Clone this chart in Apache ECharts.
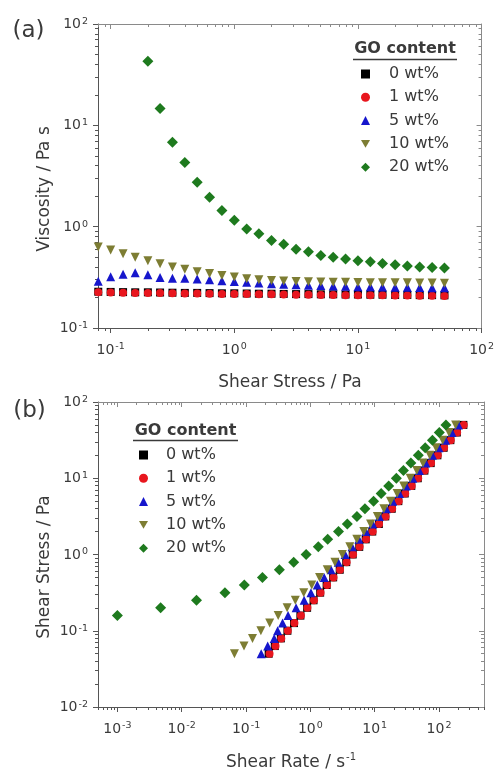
<!DOCTYPE html>
<html>
<head>
<meta charset="utf-8">
<title>GO content rheology</title>
<script src="https://cdn.jsdelivr.net/npm/echarts@6/dist/echarts.min.js"></script>
<style>
    html, body { margin: 0; padding: 0; background: #fff; }
    #main { width: 497px; height: 773px; }
</style>
</head>
<body>
<div id="main"></div>
<script>
// shear stress steps (Pa), shared by both panels
var stressList = [0.05, 0.063, 0.0794, 0.1, 0.126, 0.158, 0.2, 0.251, 0.316, 0.398, 0.501,
    0.631, 0.794, 1, 1.26, 1.58, 2, 2.51, 3.16, 3.98, 5.01, 6.31, 7.94, 10, 12.6, 15.8, 20,
    25.1, 31.6, 39.8, 50.1];

// (a) viscosity / Pa s, starting at stress 0.0794 (20 wt% starts at 0.2)
var visc0 = [0.228, 0.227, 0.226, 0.225, 0.225, 0.224, 0.223, 0.222, 0.222, 0.221, 0.22, 0.22,
    0.219, 0.218, 0.218, 0.217, 0.216, 0.216, 0.215, 0.215, 0.214, 0.214, 0.213, 0.213, 0.212,
    0.212, 0.211, 0.211, 0.21];
var visc1 = [0.225, 0.224, 0.223, 0.222, 0.222, 0.221, 0.22, 0.219, 0.219, 0.218, 0.217, 0.217,
    0.216, 0.215, 0.215, 0.214, 0.213, 0.213, 0.212, 0.212, 0.211, 0.211, 0.21, 0.21, 0.209,
    0.209, 0.208, 0.208, 0.207];
var visc5 = [0.29, 0.32, 0.34, 0.35, 0.335, 0.315, 0.31, 0.31, 0.305, 0.3, 0.293, 0.288, 0.283,
    0.278, 0.274, 0.27, 0.267, 0.264, 0.262, 0.26, 0.258, 0.256, 0.255, 0.254, 0.253, 0.252,
    0.251, 0.25, 0.25];
var visc10 = [0.63, 0.59, 0.54, 0.5, 0.46, 0.43, 0.4, 0.38, 0.36, 0.345, 0.33, 0.318, 0.307,
    0.3, 0.295, 0.291, 0.288, 0.286, 0.284, 0.283, 0.282, 0.281, 0.28, 0.28, 0.279, 0.279,
    0.278, 0.278, 0.277];
var visc20 = [43, 14.7, 6.8, 4.3, 2.75, 1.95, 1.44, 1.16, 0.95, 0.85, 0.73, 0.67, 0.6, 0.565,
    0.52, 0.5, 0.48, 0.46, 0.45, 0.433, 0.42, 0.41, 0.4, 0.395, 0.39];

// (b) shear rate / s-1, starting at stress 0.05 (20 wt% starts at 0.158)
var rate0 = [0.225, 0.28, 0.348, 0.44, 0.557, 0.7, 0.89, 1.12, 1.42, 1.79, 2.26, 2.86, 3.61,
    4.55, 5.75, 7.25, 9.17, 11.6, 14.6, 18.4, 23.3, 29.3, 37.1, 46.7, 59.2, 74.2, 94.3, 118,
    150, 189, 239];
var rate1 = [0.232, 0.287, 0.353, 0.446, 0.565, 0.712, 0.9, 1.14, 1.44, 1.82, 2.29, 2.89, 3.66,
    4.61, 5.83, 7.35, 9.3, 11.7, 14.8, 18.7, 23.6, 29.8, 37.6, 47.4, 60, 75.2, 95.7, 120, 152,
    191, 242];
var rate5 = [0.172, 0.217, 0.274, 0.31, 0.37, 0.45, 0.6, 0.8, 1.02, 1.28, 1.64, 2.1, 2.71, 3.47,
    4.45, 5.68, 7.3, 9.3, 11.8, 15.1, 19.1, 24.3, 30.8, 39.1, 49.4, 62.2, 79, 99.6, 126, 159,
    200];
var rate10 = [0.066, 0.093, 0.126, 0.17, 0.233, 0.316, 0.435, 0.584, 0.79, 1.05, 1.39, 1.83,
    2.41, 3.14, 4.1, 5.27, 6.78, 8.63, 11, 13.9, 17.6, 22.3, 28.2, 35.6, 45, 56.4, 71.7, 90,
    114, 143, 181];
var rate20 = [0.001, 0.0047, 0.017, 0.047, 0.094, 0.18, 0.33, 0.55, 0.86, 1.33, 1.86, 2.74,
    3.75, 5.3, 7.05, 9.6, 12.6, 16.5, 21.7, 28, 36.5, 47.6, 61, 79, 101, 128];

var seriesNames = ['0 wt%', '1 wt%', '5 wt%', '10 wt%', '20 wt%'];

// major tick values of each axis
var stressTicksA = [0.1, 1, 10, 100];
var viscTicks = [0.1, 1, 10, 100];
var rateTicks = [0.001, 0.01, 0.1, 1, 10, 100];
var stressTicksB = [0.01, 0.1, 1, 10, 100];

var FONT = 'DejaVu Sans';
var TEXT_COLOR = '#3a3a3a';
var markStyle = [
    {symbol: 'rect', size: 8, rotate: 0, color: '#000000'},
    {symbol: 'circle', size: 8, rotate: 0, color: '#e8161e'},
    {symbol: 'triangle', size: 9, rotate: 0, color: '#1616cc'},
    {symbol: 'triangle', size: 9, rotate: 180, color: '#7d7d33'},
    {symbol: 'diamond', size: 11, rotate: 0, color: '#1e7a1e'}
];
// legend icons (the down triangle has to be drawn as a path)
var legendIcons = ['rect', 'circle', 'triangle', 'path://M0,0L10,0L5,8.7Z', 'diamond'];

function pairsA(visc, offset) {
    var arr = [];
    for (var i = 0; i < visc.length; i++) {
        arr.push([stressList[i + offset], visc[i]]);
    }
    return arr;
}

function pairsB(rate, offset) {
    var arr = [];
    for (var i = 0; i < rate.length; i++) {
        arr.push([rate[i], stressList[i + offset]]);
    }
    return arr;
}

function minorTicks(min, max) {
    var list = [];
    var start = Math.floor(Math.log10(min));
    var end = Math.ceil(Math.log10(max));
    for (var e = start; e < end; e++) {
        for (var k = 2; k <= 9; k++) {
            var v = +(k * Math.pow(10, e)).toPrecision(6);
            if (v >= min && v <= max) {
                list.push(v);
            }
        }
    }
    return list;
}

function powLabel(value) {
    var exp = Math.round(Math.log(value) / Math.LN10);
    return '{b|10}{s|' + exp + '}';
}

var labelRich = {
    b: {fontFamily: FONT, fontSize: 14, color: TEXT_COLOR, lineHeight: 15, verticalAlign: 'bottom'},
    s: {fontFamily: FONT, fontSize: 9.5, color: TEXT_COLOR, lineHeight: 9, verticalAlign: 'top', padding: [0, 0, 0, 1]}
};

// one log axis; main ones carry the line and the labels
function logAxis(gridIndex, position, min, max, ticks, cfg) {
    var color = cfg.color || '#555';
    var axis = {
        type: 'log',
        logBase: 10,
        gridIndex: gridIndex,
        position: position,
        min: min,
        max: max,
        axisLine: {show: !!cfg.line, onZero: false, lineStyle: {color: color, width: 1}},
        axisTick: {
            show: true,
            customValues: ticks,
            inside: !!cfg.inside,
            length: cfg.len,
            lineStyle: {color: color, width: 1}
        },
        axisLabel: {show: false},
        splitLine: {show: false},
        minorTick: {show: false}
    };
    if (cfg.label) {
        axis.axisLabel = {
            show: true,
            customValues: ticks,
            formatter: powLabel,
            margin: cfg.margin,
            rich: labelRich
        };
    }
    return axis;
}

// bottom/left main + minor, top/right mirrored inside
function axisSet(gridIndex, pos, opposite, min, max, majors, margin) {
    var minors = minorTicks(min, max);
    return [
        logAxis(gridIndex, pos, min, max, majors, {line: true, len: 5, label: true, margin: margin}),
        logAxis(gridIndex, pos, min, max, minors, {len: 3}),
        logAxis(gridIndex, opposite, min, max, majors, {line: true, len: 5, inside: true, color: '#8a8a8a'}),
        logAxis(gridIndex, opposite, min, max, minors, {len: 3, inside: true, color: '#8a8a8a'})
    ];
}

var xAxisList = axisSet(0, 'bottom', 'top', 0.079, 100, stressTicksA, 14)
    .concat(axisSet(1, 'bottom', 'top', 0.0005, 500, rateTicks, 14));
var yAxisList = axisSet(0, 'left', 'right', 0.1, 100, viscTicks, 10)
    .concat(axisSet(1, 'left', 'right', 0.01, 100, stressTicksB, 10));

var dataA = [pairsA(visc0, 2), pairsA(visc1, 2), pairsA(visc5, 2), pairsA(visc10, 2), pairsA(visc20, 6)];
var dataB = [pairsB(rate0, 0), pairsB(rate1, 0), pairsB(rate5, 0), pairsB(rate10, 0), pairsB(rate20, 5)];

var seriesList = [];
function addPanel(dataList, axisIndex) {
    for (var i = 0; i < dataList.length; i++) {
        var ms = markStyle[i];
        seriesList.push({
            name: seriesNames[i],
            type: 'scatter',
            xAxisIndex: axisIndex,
            yAxisIndex: axisIndex,
            data: dataList[i],
            symbol: ms.symbol,
            symbolSize: ms.size,
            symbolRotate: ms.rotate,
            itemStyle: {color: ms.color, opacity: 1},
            silent: true
        });
    }
}
addPanel(dataA, 0);
addPanel(dataB, 4);

function legendAt(left, top, textGap) {
    var items = [];
    for (var i = 0; i < seriesNames.length; i++) {
        items.push({name: seriesNames[i], icon: legendIcons[i]});
    }
    return {
        data: items,
        orient: 'vertical',
        left: left,
        top: top,
        padding: 0,
        itemWidth: 9,
        itemHeight: 9,
        itemGap: 4.3,
        selectedMode: false,
        textStyle: {fontFamily: FONT, fontSize: 16, color: TEXT_COLOR, lineHeight: 19, padding: [0, 0, 0, textGap]}
    };
}

function plainText(text, x, y, size, rotate, weight) {
    return {
        type: 'text',
        x: x,
        y: y,
        rotation: rotate ? Math.PI / 2 : 0,
        silent: true,
        style: {
            text: text,
            fontFamily: FONT,
            fontSize: size,
            fontWeight: weight || 'normal',
            fill: TEXT_COLOR,
            textAlign: 'center',
            textVerticalAlign: 'middle'
        }
    };
}

function underline(x1, x2, y) {
    return {
        type: 'line',
        silent: true,
        shape: {x1: x1, y1: y, x2: x2, y2: y},
        style: {stroke: TEXT_COLOR, lineWidth: 1.5}
    };
}

var rateTitle = {
    type: 'text',
    x: 291,
    y: 762,
    silent: true,
    style: {
        text: '{b|Shear Rate / s}{s|-1}',
        textAlign: 'center',
        textVerticalAlign: 'middle',
        rich: {
            b: {fontFamily: FONT, fontSize: 17, fill: TEXT_COLOR, color: TEXT_COLOR, lineHeight: 19, verticalAlign: 'bottom'},
            s: {fontFamily: FONT, fontSize: 10, fill: TEXT_COLOR, color: TEXT_COLOR, lineHeight: 10, verticalAlign: 'top', padding: [0, 0, 0, 1]}
        }
    }
};

var myChart = echarts.init(document.getElementById('main'), null, {renderer: 'canvas'});

var option = {
    animation: false,
    backgroundColor: '#ffffff',
    grid: [
        {left: 98, top: 24, width: 386, height: 304, containLabel: false},
        {left: 98, top: 402, width: 386, height: 305, containLabel: false}
    ],
    xAxis: xAxisList,
    yAxis: yAxisList,
    legend: [legendAt(361, 64.5, 14), legendAt(139, 445.5, 13)],
    graphic: [
        plainText('(a)', 28.5, 31.5, 23),
        plainText('(b)', 29.5, 411.5, 23),
        plainText('Viscosity / Pa s', 45, 189, 17, true),
        plainText('Shear Stress / Pa', 290, 383, 17),
        plainText('Shear Stress / Pa', 45, 567, 17, true),
        rateTitle,
        plainText('GO content', 405, 49, 16, false, 'bold'),
        underline(353, 457, 59.5),
        plainText('GO content', 185.5, 431, 16, false, 'bold'),
        underline(133, 238, 440.5)
    ],
    series: seriesList
};

myChart.setOption(option, true);
window.onresize = myChart.resize;
</script>
</body>
</html>
